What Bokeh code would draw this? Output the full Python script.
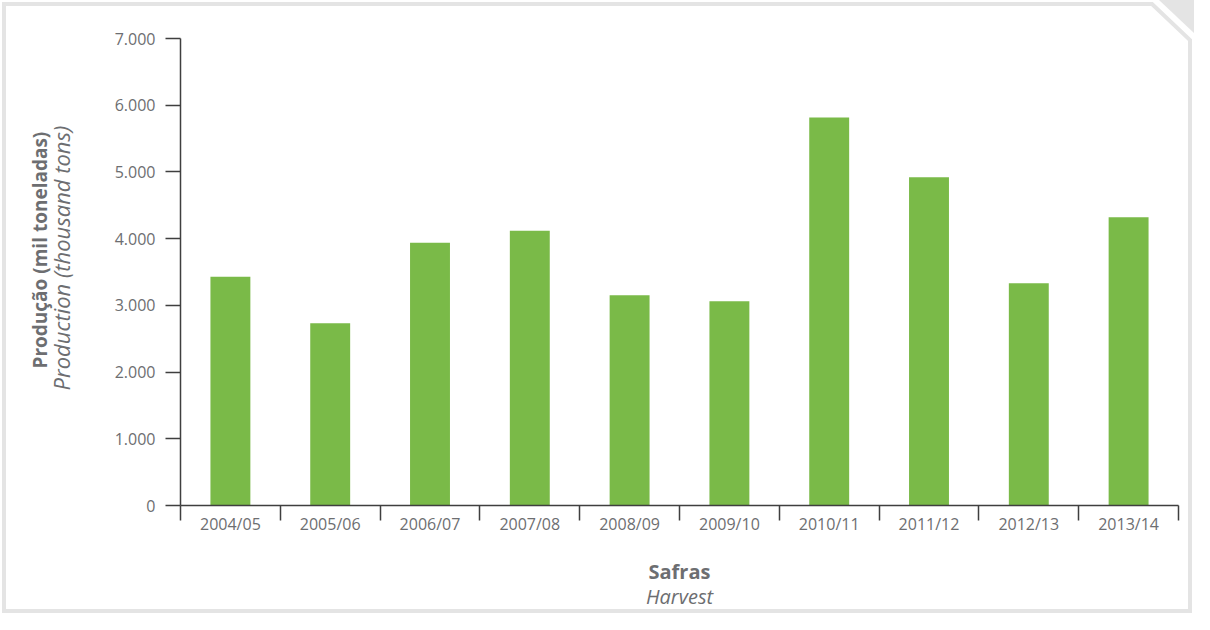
from urllib.parse import quote
from bokeh.plotting import figure
from bokeh.models import Range1d, FixedTicker, LinearAxis, Title
from bokeh.embed import file_html
from bokeh.resources import INLINE

# ---- data ----
harvests = ["2004/05", "2005/06", "2006/07", "2007/08", "2008/09",
            "2009/10", "2010/11", "2011/12", "2012/13", "2013/14"]
production = [3430, 2730, 3940, 4120, 3150, 3060, 5815, 4920, 3330, 4320]
y_ticks = [0, 1000, 2000, 3000, 4000, 5000, 6000, 7000]
y_tick_labels = ["0", "1.000", "2.000", "3.000", "4.000", "5.000", "6.000", "7.000"]

FONT = "Open Sans"
TXT = "#6d6e71"
AXC = "#3f3f3f"
BAR = "#7aba48"
FRM = "#e4e4e4"

W, H = 1194, 614
centers = [i + 0.5 for i in range(len(harvests))]
bounds = [i for i in range(len(harvests) + 1)]

p = figure(width=W, height=H, output_backend="svg", toolbar_location=None,
           x_range=Range1d(0, len(harvests)), y_range=Range1d(0, 7000),
           x_axis_type=None, y_axis_type=None,
           min_border_left=180, min_border_right=16,
           min_border_top=38, min_border_bottom=109)
p.outline_line_color = None
p.xgrid.visible = False
p.ygrid.visible = False
p.background_fill_color = None
p.border_fill_color = None

# decorative frame with folded corner, drawn as the page element's background
svg = ("<svg xmlns='http://www.w3.org/2000/svg' width='%d' height='%d'>"
       "<polyline points='4,4 1152,4 1190,40 1190,611 4,611 4,2' fill='none' "
       "stroke='%s' stroke-width='4' stroke-linejoin='miter'/>"
       "<polygon points='1159,0 1194,0 1194,33' fill='%s'/></svg>") % (W, H, FRM, FRM)
p.styles = {"background": 'url("data:image/svg+xml;charset=utf-8,%s") no-repeat, #ffffff' % quote(svg)}

p.vbar(x=centers, top=production, width=0.4, fill_color=BAR, line_color=None)

# y axis
yax = LinearAxis(ticker=FixedTicker(ticks=y_ticks, minor_ticks=[]))
yax.major_label_overrides = {t: l for t, l in zip(y_ticks, y_tick_labels)}
yax.major_tick_out = 15
yax.major_tick_in = 0
yax.minor_tick_line_color = None
yax.major_label_standoff = 10
yax.axis_line_color = AXC
yax.axis_line_width = 1.5
yax.major_tick_line_color = AXC
yax.major_tick_line_width = 1.5
yax.major_label_text_font = FONT
yax.major_label_text_font_size = "16px"
yax.major_label_text_color = TXT
p.add_layout(yax, "left")

# x axis: labels centred, ticks at category boundaries
xax = LinearAxis(ticker=FixedTicker(ticks=centers, minor_ticks=bounds),
                 axis_label="Safras")
xax.major_label_overrides = {c: h for c, h in zip(centers, harvests)}
xax.major_tick_line_color = None
xax.major_tick_out = 0
xax.major_tick_in = 0
xax.minor_tick_out = 15
xax.minor_tick_in = 0
xax.minor_tick_line_color = AXC
xax.minor_tick_line_width = 1.5
xax.major_label_standoff = -8
xax.axis_line_color = AXC
xax.axis_line_width = 1.5
xax.major_label_text_font = FONT
xax.major_label_text_font_size = "16px"
xax.major_label_text_color = TXT
xax.axis_label_text_font = FONT
xax.axis_label_text_font_size = "20px"
xax.axis_label_text_font_style = "bold"
xax.axis_label_text_color = TXT
xax.axis_label_standoff = 20
p.add_layout(xax, "below")

# axis titles
t_it = Title(text="Production (thousand tons)", align="left", offset=115,
             text_font=FONT, text_font_size="22px", text_font_style="italic",
             text_color=TXT, standoff=71)
t_bd = Title(text="Produção (mil toneladas)", align="left", offset=137,
             text_font=FONT, text_font_size="19px", text_font_style="bold",
             text_color=TXT, standoff=-89)
p.add_layout(t_it, "left")
p.add_layout(t_bd, "left")

b_it = Title(text="Harvest", align="center",
             text_font=FONT, text_font_size="20px", text_font_style="italic",
             text_color=TXT, standoff=-14)
p.add_layout(b_it, "below")

open("out.html", "w").write(file_html(p, INLINE))
